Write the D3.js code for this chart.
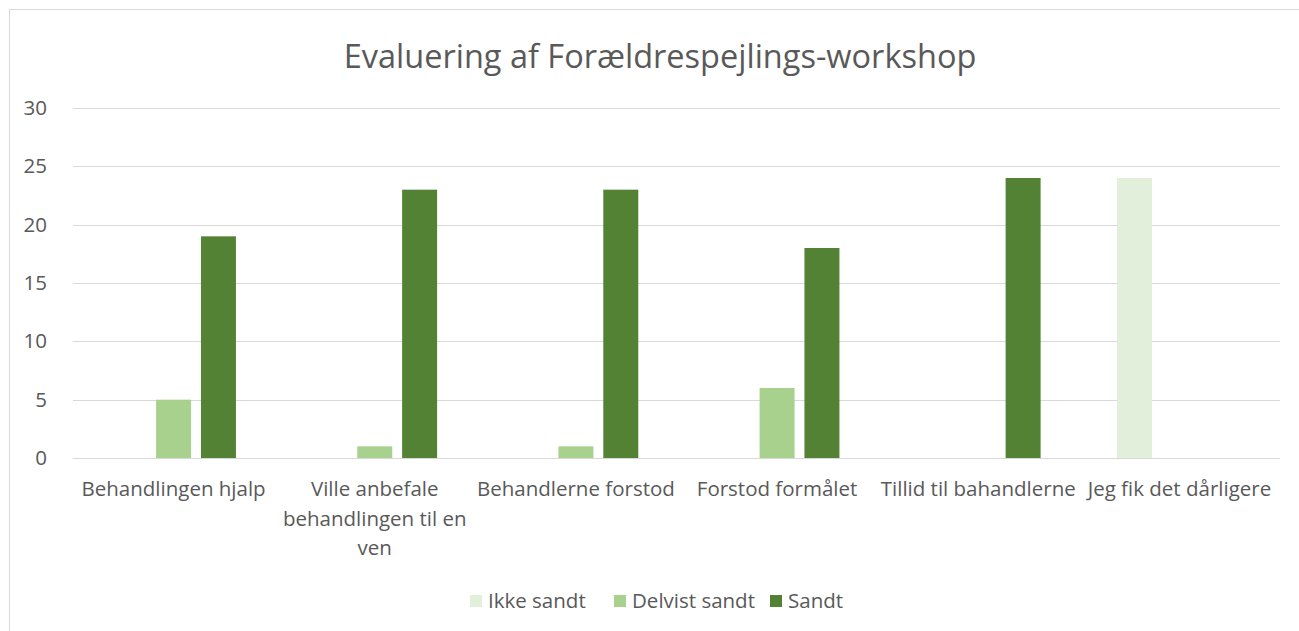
<!DOCTYPE html>
<html>
<head>
<meta charset="utf-8">
<script src="https://cdn.jsdelivr.net/npm/d3@7"></script>
<style>
  body { margin: 0; background: #fff; }
  text { font-family: "Open Sans", sans-serif; fill: #595959; }
</style>
</head>
<body>
<div id="chart"></div>
<script>
// data
const categories = [
  "Behandlingen hjalp",
  "Ville anbefale\nbehandlingen til en\nven",
  "Behandlerne forstod",
  "Forstod formålet",
  "Tillid til bahandlerne",
  "Jeg fik det dårligere"
]
const seriesNames = ["Ikke sandt", "Delvist sandt", "Sandt"]
const ikkeSandt = [0, 0, 0, 0, 0, 24]
const delvistSandt = [5, 1, 1, 6, 0, 0]
const sandt = [19, 23, 23, 18, 24, 0]
const yTicks = [0, 5, 10, 15, 20, 25, 30]
const colors = ["#e2efda", "#a9d18e", "#548235"]

const allSeries = [ikkeSandt, delvistSandt, sandt]

const width = 1299
const height = 631
const labelSize = 20.5

const svg = d3.select("#chart")
  .append("svg")
    .attr("width", width)
    .attr("height", height)

// outer chart border
svg.append("rect")
    .attr("x", 9.5)
    .attr("y", 9.5)
    .attr("width", width + 20)
    .attr("height", height + 20)
    .attr("fill", "none")
    .attr("stroke", "#d9d9d9")

// scales
const x0 = d3.scaleBand()
  .domain(categories)
  .range([73, 1280])
  .paddingInner(0.38)
  .paddingOuter(0.19)

const x1 = d3.scaleBand()
  .domain(seriesNames)
  .range([0, x0.bandwidth()])
  .paddingInner(0.22)
  .paddingOuter(0)

const y = d3.scaleLinear()
  .domain([0, 30])
  .range([458, 108])

// gridlines
svg.append("g")
  .selectAll("line")
  .data(yTicks)
  .join("line")
    .attr("x1", 73)
    .attr("x2", 1280)
    .attr("y1", d => Math.round(y(d)) + 0.5)
    .attr("y2", d => Math.round(y(d)) + 0.5)
    .attr("stroke", "#d9d9d9")
    .attr("stroke-width", 1)

// y axis labels
const yAxis = svg.append("g")
    .attr("transform", "translate(47,0)")
    .call(d3.axisLeft(y).tickValues(yTicks).tickSize(0).tickPadding(0))
yAxis.select(".domain").remove()
yAxis.selectAll("text")
    .attr("font-size", labelSize)
    .attr("fill", "#595959")
    .style("font-family", "'Open Sans', sans-serif")

// bars
const table = categories.map((c, i) => ({
  cat: c,
  values: seriesNames.map((s, j) => ({ key: s, value: allSeries[j][i], color: colors[j] }))
}))

svg.append("g")
  .selectAll("g")
  .data(table)
  .join("g")
    .attr("transform", d => `translate(${x0(d.cat)},0)`)
  .selectAll("rect")
  .data(d => d.values.filter(v => v.value > 0))
  .join("rect")
    .attr("x", d => x1(d.key))
    .attr("y", d => y(d.value))
    .attr("width", x1.bandwidth())
    .attr("height", d => y(0) - y(d.value))
    .attr("fill", d => d.color)

// baseline over the bars
svg.append("line")
    .attr("x1", 73)
    .attr("x2", 1280)
    .attr("y1", Math.round(y(0)) + 0.5)
    .attr("y2", Math.round(y(0)) + 0.5)
    .attr("stroke", "#d9d9d9")

// x labels
const xLabels = svg.append("g")
  .selectAll("text")
  .data(categories)
  .join("text")
    .attr("x", d => x0(d) + x0.bandwidth() / 2)
    .attr("y", 496)
    .attr("text-anchor", "middle")
    .attr("font-size", labelSize)

xLabels.selectAll("tspan")
  .data(d => d.split("\n").map(t => ({ t, x: x0(d) + x0.bandwidth() / 2 })))
  .join("tspan")
    .attr("x", d => d.x)
    .attr("dy", (d, i) => i === 0 ? 0 : 29.5)
    .text(d => d.t)

// title
svg.append("text")
    .attr("x", 660)
    .attr("y", 68)
    .attr("text-anchor", "middle")
    .attr("font-size", 32.5)
    .text("Evaluering af Forældrespejlings-workshop")

// legend
const legendX = [470, 614, 770]
const legend = svg.append("g")
  .selectAll("g")
  .data(seriesNames)
  .join("g")
    .attr("transform", (d, i) => `translate(${legendX[i]},595)`)

legend.append("rect")
    .attr("width", 12)
    .attr("height", 12)
    .attr("fill", (d, i) => colors[i])

legend.append("text")
    .attr("x", 18)
    .attr("y", 13)
    .attr("font-size", labelSize)
    .text(d => d)
</script>
</body>
</html>
